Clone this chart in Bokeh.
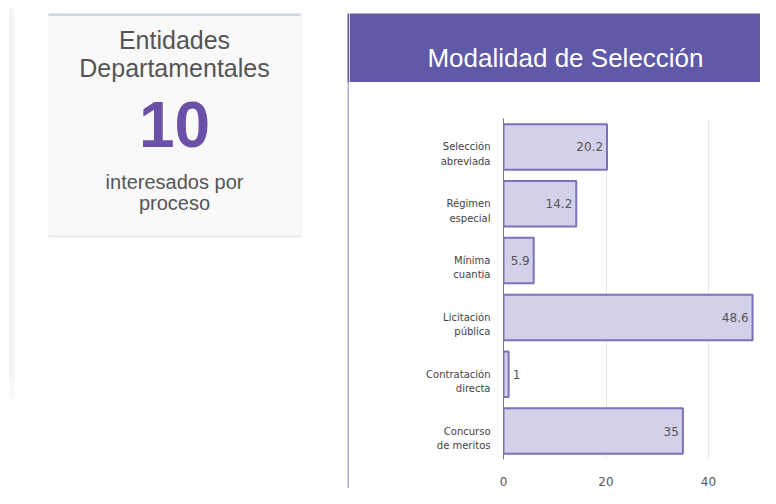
from bokeh.plotting import figure
from bokeh.layouts import row, column
from bokeh.models import Range1d, FactorRange, ColumnDataSource, FixedTicker
from bokeh.core.properties import value
from bokeh.embed import file_html
from bokeh.resources import INLINE

# ---- data ----
categories = ["Selección abreviada", "Régimen especial", "Mínima cuantia",
              "Licitación pública", "Contratación directa", "Concurso de meritos"]
values = [20.2, 14.2, 5.9, 48.6, 1, 35]
x_ticks = [0, 20, 40]
card_title = ["Entidades", "Departamentales"]
card_number = "10"
card_caption = ["interesados por", "proceso"]
chart_title = "Modalidad de Selección"

PURPLE = "#5f59a7"
SANS = "Liberation Sans"
CHART_FONT = "DejaVu Sans"
W, H = 760, 488
LW = 349          # width of the left panel (ends at the chart card's left border)
HH = 82           # height of the chart card header strip


def no_align(fig):
    try:
        fig.frame_align = False
    except Exception:
        pass


def canvas_fig(w, h):
    f = figure(width=w, height=h, x_range=Range1d(0, w), y_range=Range1d(h, 0),
               x_axis_type=None, y_axis_type=None, toolbar_location=None,
               output_backend="svg", min_border=0, outline_line_color=None,
               background_fill_color="white", border_fill_color="white")
    f.grid.visible = False
    no_align(f)
    return f


# ---- left panel: KPI card ----
left = canvas_fig(LW, H)
left.quad(left=9, right=11, top=8, bottom=380, fill_color="#eeeeee", line_color=None)
left.quad(left=11, right=14, top=8, bottom=380, fill_color="#f6f6f6", line_color=None)
left.quad(left=9, right=14, top=380, bottom=398, fill_color="#f9f9f9", line_color=None)
left.quad(left=48, right=301, top=14, bottom=237, fill_color="#ebebeb", line_color=None)
left.quad(left=48, right=300, top=13, bottom=235, fill_color="#f9f9f9", line_color=None)
left.quad(left=48, right=300, top=13, bottom=15.5, fill_color="#cfd6e1", line_color=None)

cx = 174
left.text(x=[cx, cx], y=[39, 67], text=card_title, text_font=value(SANS),
          text_font_size=value("25px"), text_color="#555555",
          text_align="center", text_baseline="middle")
left.text(x=[cx], y=[124], text=[card_number], text_font=value(SANS),
          text_font_size=value("64px"), text_font_style="bold", text_color="#6a50a7",
          text_align="center", text_baseline="middle")
left.text(x=[cx, cx], y=[181, 202], text=card_caption, text_font=value(SANS),
          text_font_size=value("20px"), text_color="#555555",
          text_align="center", text_baseline="middle")

# chart card: left edge of header + left border
left.quad(left=347, right=LW, top=13, bottom=HH, fill_color=PURPLE, line_color=None)
left.quad(left=347, right=LW, top=HH, bottom=H, fill_color="#b1acd8", line_color=None)

# ---- chart card header ----
RW = W - LW
head = canvas_fig(RW, HH)
head.quad(left=0, right=RW, top=13, bottom=HH, fill_color=PURPLE, line_color=None)
head.text(x=[565 - LW], y=[57], text=[chart_title], text_font=value(SANS),
          text_font_size=value("26px"), text_color="white",
          text_align="center", text_baseline="middle")

# ---- bar chart ----
# two-line tick labels; the leading blank line keeps the first line level with the bar
factors = ["\n" + c.replace(" ", "\n", 1) for c in categories]
chart = figure(width=RW, height=H - HH, y_range=FactorRange(*reversed(factors), range_padding=0),
               x_range=Range1d(0, (W - 503) / 5.125), toolbar_location=None,
               output_backend="svg", min_border_left=503 - LW, min_border_right=0,
               min_border_top=118 - HH, min_border_bottom=H - 461, outline_line_color=None,
               background_fill_color="white", border_fill_color="white")
no_align(chart)

src = ColumnDataSource(dict(cat=factors, val=values))
chart.hbar(y="cat", right="val", left=0, height=0.8, source=src,
           fill_color="#d3d0e9", line_color="#7a72bb", line_width=2)

inside = [(c, v) for c, v in zip(factors, values) if v >= 4]
outside = [(c, v) for c, v in zip(factors, values) if v < 4]
chart.text(x=[v for _, v in inside], y=[c for c, _ in inside],
           text=[f"{v:g}" for _, v in inside], x_offset=-4,
           text_align="right", text_baseline="middle", text_font=value(CHART_FONT),
           text_font_size=value("12px"), text_color="#555555")
chart.text(x=[v for _, v in outside], y=[c for c, _ in outside],
           text=[f"{v:g}" for _, v in outside], x_offset=4,
           text_align="left", text_baseline="middle", text_font=value(CHART_FONT),
           text_font_size=value("12px"), text_color="#555555")

chart.ygrid.visible = False
chart.xgrid.ticker = FixedTicker(ticks=x_ticks)
chart.xgrid.grid_line_color = "#e8e8e8"
chart.xaxis.ticker = FixedTicker(ticks=x_ticks)
chart.xaxis.axis_line_color = None
chart.xaxis.major_tick_line_color = None
chart.xaxis.minor_tick_line_color = None
chart.xaxis.major_label_standoff = 11
chart.xaxis.major_label_text_font = CHART_FONT
chart.xaxis.major_label_text_font_size = "12px"
chart.xaxis.major_label_text_color = "#555555"

chart.yaxis.axis_line_color = "#777777"
chart.yaxis.axis_line_width = 1
chart.yaxis.major_tick_line_color = None
chart.yaxis.minor_tick_line_color = None
chart.yaxis.major_label_standoff = 7
chart.yaxis.major_label_text_font = CHART_FONT
chart.yaxis.major_label_text_font_size = "10px"
chart.yaxis.major_label_text_color = "#444444"
chart.yaxis.major_label_text_line_height = 1.3

layout = row(left, column(head, chart, spacing=0), spacing=0)
open("out.html", "w").write(file_html(layout, INLINE))
